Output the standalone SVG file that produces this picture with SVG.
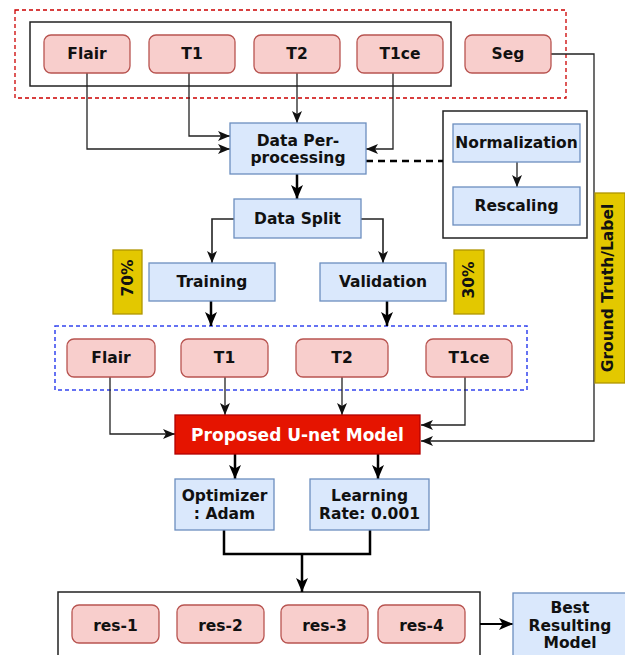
<svg xmlns="http://www.w3.org/2000/svg" width="625" height="655" viewBox="0 0 625 655">
<defs>
<style>
text{font-family:"DejaVu Sans","Verdana",sans-serif;font-weight:bold;font-size:15.5px;fill:#111;text-anchor:middle;dominant-baseline:central}
.pk{fill:#f8cecc;stroke:#b85450;stroke-width:1.3}
.bl{fill:#dae8fc;stroke:#6c8ebf;stroke-width:1.3}
.ye{fill:#e3c800;stroke:#b09500;stroke-width:1.3}
.rd{fill:#e51400;stroke:#b20000;stroke-width:1.3}
.grp{fill:none;stroke:#222;stroke-width:1.5}
.ln{fill:none;stroke:#222;stroke-width:1.3}
.th{fill:none;stroke:#000;stroke-width:2.5}
</style>
<marker id="a" viewBox="0 0 12 10" refX="12" refY="5" markerWidth="12" markerHeight="10" markerUnits="userSpaceOnUse" orient="auto"><path d="M0,0 L12,5 L0,10 L3,5 z" fill="#111"/></marker>
<marker id="b" viewBox="0 0 14 12" refX="14" refY="6" markerWidth="14" markerHeight="12" markerUnits="userSpaceOnUse" orient="auto"><path d="M0,0 L14,6 L0,12 L3.5,6 z" fill="#000"/></marker>
</defs>
<rect width="625" height="655" fill="#fff"/>
<g id="containers">
<rect x="15" y="10" width="551" height="88" fill="none" stroke="#cc0000" stroke-width="1.3" stroke-dasharray="4,3"/>
<rect x="30" y="22" width="421" height="64" class="grp"/>
<rect x="443" y="111" width="144" height="127" class="grp"/>
<rect x="55" y="326" width="472" height="64" fill="none" stroke="#3344ee" stroke-width="1.5" stroke-dasharray="4,3"/>
<rect x="58" y="592" width="422" height="70" class="grp"/>
</g>
<g id="connectors">
<path class="ln" d="M87,73 V149 H230" marker-end="url(#a)"/>
<path class="ln" d="M189,73 V136 H230" marker-end="url(#a)"/>
<path class="ln" d="M297,73 V123" marker-end="url(#a)"/>
<path class="ln" d="M393,73 V149 H366" marker-end="url(#a)"/>
<path class="ln" d="M551,54 H594 V441 H421" marker-end="url(#a)"/>
<path d="M366,161 H443" fill="none" stroke="#000" stroke-width="2.5" stroke-dasharray="7,5"/>
<path class="ln" d="M517,162 V187" marker-end="url(#a)"/>
<path class="th" d="M297,174 V199" marker-end="url(#b)"/>
<path class="ln" style="stroke-width:1.6" d="M234,219 H212 V263" marker-end="url(#a)"/>
<path class="ln" style="stroke-width:1.6" d="M361,219 H383 V263" marker-end="url(#a)"/>
<path class="th" d="M211,301 V326" marker-end="url(#b)"/>
<path class="th" d="M387,301 V326" marker-end="url(#b)"/>
<path class="ln" d="M110,377 V434 H175" marker-end="url(#a)"/>
<path class="ln" d="M225,377 V415" marker-end="url(#a)"/>
<path class="ln" d="M342,377 V415" marker-end="url(#a)"/>
<path class="ln" d="M465,377 V425 H421" marker-end="url(#a)"/>
<path class="th" d="M235,454 V479" marker-end="url(#b)"/>
<path class="th" d="M378,454 V479" marker-end="url(#b)"/>
<path class="th" d="M224,530 V554 H370 V530"/>
<path class="th" d="M302,554 V592" marker-end="url(#b)"/>
<path class="th" style="stroke-width:2" d="M480,624 H513" marker-end="url(#b)"/>
</g>
<g id="flair1"><rect x="44" y="35" width="86" height="38" rx="7" class="pk"/><text x="87" y="54">Flair</text></g>
<g id="t1_1"><rect x="149" y="35" width="86" height="38" rx="7" class="pk"/><text x="192" y="54">T1</text></g>
<g id="t2_1"><rect x="254" y="35" width="86" height="38" rx="7" class="pk"/><text x="297" y="54">T2</text></g>
<g id="t1ce_1"><rect x="357" y="35" width="86" height="38" rx="7" class="pk"/><text x="400" y="54">T1ce</text></g>
<g id="seg"><rect x="465" y="35" width="86" height="38" rx="7" class="pk"/><text x="508" y="54">Seg</text></g>
<g id="preproc"><rect x="230" y="123" width="136" height="51" class="bl"/><text x="298" y="141">Data Per-</text><text x="298" y="158">processing</text></g>
<g id="norm"><rect x="453" y="124" width="127" height="38" class="bl"/><text x="516.5" y="143">Normalization</text></g>
<g id="resc"><rect x="453" y="187" width="127" height="38" class="bl"/><text x="516.5" y="206">Rescaling</text></g>
<g id="gt"><rect x="595" y="193" width="30" height="190" class="ye"/><text transform="translate(608,288) rotate(-90)">Ground Truth/Label</text></g>
<g id="split"><rect x="234" y="199" width="127" height="39" class="bl"/><text x="297.5" y="219">Data Split</text></g>
<g id="training"><rect x="149" y="263" width="126" height="38" class="bl"/><text x="212" y="282">Training</text></g>
<g id="validation"><rect x="320" y="263" width="126" height="38" class="bl"/><text x="383" y="282">Validation</text></g>
<g id="p70"><rect x="113" y="250" width="29" height="64" class="ye"/><text transform="translate(128,278) rotate(-90)">70%</text></g>
<g id="p30"><rect x="454" y="250" width="30" height="64" class="ye"/><text transform="translate(469,280) rotate(-90)">30%</text></g>
<g id="flair2"><rect x="67" y="339" width="88" height="38" rx="7" class="pk"/><text x="111" y="358">Flair</text></g>
<g id="t1_2"><rect x="181" y="339" width="87" height="38" rx="7" class="pk"/><text x="224.5" y="358">T1</text></g>
<g id="t2_2"><rect x="296" y="339" width="92" height="38" rx="7" class="pk"/><text x="342" y="358">T2</text></g>
<g id="t1ce_2"><rect x="426" y="339" width="86" height="38" rx="7" class="pk"/><text x="469" y="358">T1ce</text></g>
<g id="unet"><rect x="175" y="415" width="245" height="39" class="rd"/><text x="297.5" y="435" style="fill:#fff;font-size:17px">Proposed U-net Model</text></g>
<g id="optimizer"><rect x="175" y="479" width="99" height="51" class="bl"/><text x="224.5" y="496">Optimizer</text><text x="224.5" y="514">: Adam</text></g>
<g id="lr"><rect x="310" y="479" width="119" height="51" class="bl"/><text x="369.5" y="496">Learning</text><text x="369.5" y="514">Rate: 0.001</text></g>
<g id="res1"><rect x="72" y="605" width="87" height="38" rx="7" class="pk"/><text x="115.5" y="626">res-1</text></g>
<g id="res2"><rect x="177" y="605" width="87" height="38" rx="7" class="pk"/><text x="220.5" y="626">res-2</text></g>
<g id="res3"><rect x="281" y="605" width="87" height="38" rx="7" class="pk"/><text x="324.5" y="626">res-3</text></g>
<g id="res4"><rect x="378" y="605" width="87" height="38" rx="7" class="pk"/><text x="421.5" y="626">res-4</text></g>
<g id="best"><rect x="513" y="593" width="120" height="70" class="bl"/><text x="570" y="608">Best</text><text x="570" y="626">Resulting</text><text x="570" y="643">Model</text></g>
</svg>
